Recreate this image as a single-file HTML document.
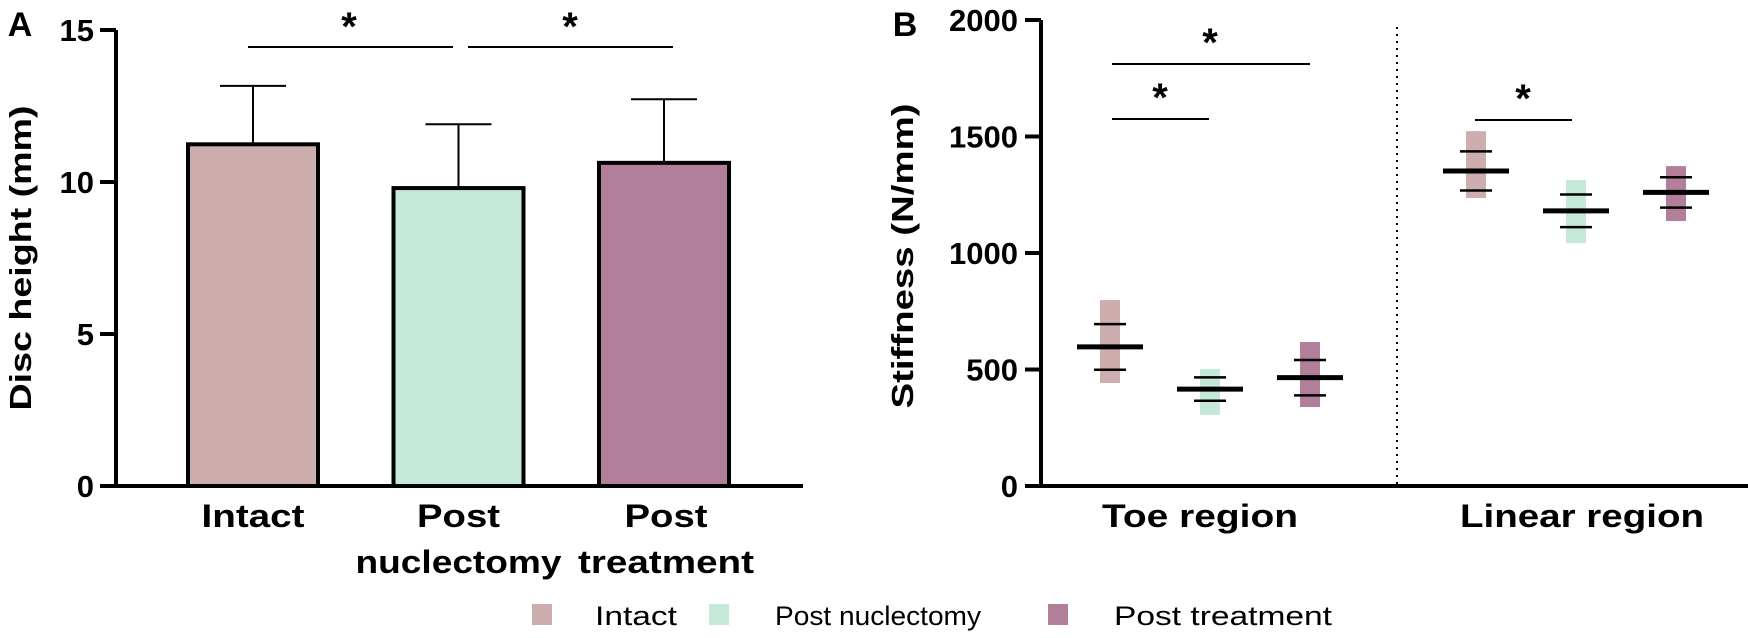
<!DOCTYPE html>
<html><head><meta charset="utf-8"><style>
html,body{margin:0;padding:0;background:#fff;}
svg{display:block;font-family:"Liberation Sans",Arial,sans-serif;}
</style></head><body>
<svg id="fig" width="1748" height="638" viewBox="0 0 1748 638" xmlns="http://www.w3.org/2000/svg">
<g id="pa"></g>
<g id="pb"></g>
<g id="legend"></g>
</svg>
<script>
const groups = ["Intact","Post nuclectomy","Post treatment"];
const colors = ["#cdadae","#c4e9d8","#b27f9a"];
const heightMean = [11.24, 9.8, 10.63];
const heightSD = [1.92, 2.1, 2.09];
const heightTicks = [0,5,10,15];
const regions = ["Toe region","Linear region"];
const toeMean = [597, 416, 465];
const toeSD = [98, 50, 76];
const toeMin = [442, 305, 339];
const toeMax = [798, 502, 618];
const linMean = [1352, 1181, 1260];
const linSD = [84, 70, 65];
const linMin = [1236, 1042, 1137];
const linMax = [1523, 1313, 1373];
const stiffTicks = [0,500,1000,1500,2000];

const NS="http://www.w3.org/2000/svg";
function mk(parent,tag,attrs,text){const e=document.createElementNS(NS,tag);for(const k in attrs)e.setAttribute(k,attrs[k]);if(text!==undefined)e.textContent=text;parent.appendChild(e);return e;}

// ---------- Panel A ----------
const pa=document.getElementById('pa');
const yA=v=>486-v*30.4;
const xA=i=>253+i*205.5;
let t=mk(pa,'text',{x:20,y:36,'font-size':34,'font-weight':'bold','text-anchor':'middle'},'A');

heightTicks.forEach(v=>{
  const l=mk(pa,'line',{x1:100,x2:116,y1:yA(v),y2:yA(v),stroke:'#000','stroke-width':4});
  
  const tx=mk(pa,'text',{x:94,y:yA(v)+11,'font-size':31,'font-weight':'bold','text-anchor':'end'},String(v));
  
});
groups.forEach((g,i)=>{
  const cx=xA(i), top=yA(heightMean[i]), et=yA(heightMean[i]+heightSD[i]);
  const el=mk(pa,'line',{x1:cx,x2:cx,y1:et,y2:top,stroke:'#000','stroke-width':2});
  
  const cap=mk(pa,'line',{x1:cx-33,x2:cx+33,y1:et,y2:et,stroke:'#000','stroke-width':2});
  
  const r=mk(pa,'rect',{x:cx-65,y:top,width:130,height:486-top,fill:colors[i],stroke:'#000','stroke-width':4});
  
});
const axA=mk(pa,'path',{d:'M116 30 L116 486 L803 486',fill:'none',stroke:'#000','stroke-width':4});

const ytA=mk(pa,'text',{x:0,y:0,'font-size':31,'font-weight':'bold','text-anchor':'middle',transform:'translate(31,258) rotate(-90)',textLength:305,lengthAdjust:'spacingAndGlyphs'},'Disc height (mm)');

const xl=[["Intact"],["Post","nuclectomy"],["Post","treatment"]];
const xlw={"Intact":103,"Post":83,"nuclectomy":206,"treatment":176};
xl.forEach((ls,i)=>{ls.forEach((s,j)=>{
  const tx=mk(pa,'text',{x:xA(i)+(i===2?2:0),y:527+j*46,'font-size':32,'font-weight':'bold','text-anchor':'middle',textLength:xlw[s],lengthAdjust:'spacingAndGlyphs'},s);
  
});});
[[248,453,349],[468,673,570]].forEach(s=>{
  const l=mk(pa,'line',{x1:s[0],x2:s[1],y1:47,y2:47,stroke:'#000','stroke-width':2});
  
  const a=mk(pa,'text',{x:s[2],y:40,'font-size':40,'font-weight':'bold','text-anchor':'middle'},'*');
  
});

// ---------- Panel B ----------
const pb=document.getElementById('pb');
const yB=v=>486-v*0.233;
const xB=(r,i)=>[1110,1476][r]+i*100;
t=mk(pb,'text',{x:905,y:36,'font-size':34,'font-weight':'bold','text-anchor':'middle'},'B');

stiffTicks.forEach(v=>{
  const l=mk(pb,'line',{x1:1025,x2:1041,y1:yB(v),y2:yB(v),stroke:'#000','stroke-width':4});
  
  const tx=mk(pb,'text',{x:1018,y:yB(v)+11,'font-size':31,'font-weight':'bold','text-anchor':'end'},String(v));
  
});
const dot=mk(pb,'line',{x1:1397,x2:1397,y1:27,y2:486,stroke:'#000','stroke-width':2,'stroke-dasharray':'2 5'});

[[toeMean,toeSD,toeMin,toeMax],[linMean,linSD,linMin,linMax]].forEach((d,r)=>{
  groups.forEach((g,i)=>{
    const cx=xB(r,i);
    const b=mk(pb,'rect',{x:cx-10,y:yB(d[3][i]),width:20,height:yB(d[2][i])-yB(d[3][i]),fill:colors[i]});
    
    [d[0][i]+d[1][i],d[0][i]-d[1][i]].forEach(v=>{
      const c=mk(pb,'line',{x1:cx-16,x2:cx+16,y1:yB(v),y2:yB(v),stroke:'#000','stroke-width':2.5});
      
    });
    const m=mk(pb,'line',{x1:cx-33,x2:cx+33,y1:yB(d[0][i]),y2:yB(d[0][i]),stroke:'#000','stroke-width':5});
    
  });
});
const axB=mk(pb,'path',{d:'M1041 20 L1041 486 L1748 486',fill:'none',stroke:'#000','stroke-width':4});

const ytB=mk(pb,'text',{x:0,y:0,'font-size':31,'font-weight':'bold','text-anchor':'middle',transform:'translate(913,256) rotate(-90)',textLength:305,lengthAdjust:'spacingAndGlyphs'},'Stiffness (N/mm)');

regions.forEach((s,r)=>{
  const tx=mk(pb,'text',{x:[1200,1582][r],y:527,'font-size':32,'font-weight':'bold','text-anchor':'middle',textLength:[196,244][r],lengthAdjust:'spacingAndGlyphs'},s);
  
});
[[1112,1310,64,1210],[1112,1209,119,1160],[1475,1572,120,1523]].forEach(s=>{
  const l=mk(pb,'line',{x1:s[0],x2:s[1],y1:s[2],y2:s[2],stroke:'#000','stroke-width':2});
  
  const a=mk(pb,'text',{x:s[3],y:s[2]-8,'font-size':40,'font-weight':'bold','text-anchor':'middle'},'*');
  
});

// ---------- Legend ----------
const lg=document.getElementById('legend');
const lx=[[532,595,82],[709,775,206],[1048,1114,218]];
groups.forEach((g,i)=>{
  const s=mk(lg,'rect',{x:lx[i][0],y:604,width:20,height:21,fill:colors[i]});
  
  const tx=mk(lg,'text',{x:lx[i][1],y:625,'font-size':27,textLength:lx[i][2],lengthAdjust:'spacingAndGlyphs'},g);
  
});
</script>
</body></html>
